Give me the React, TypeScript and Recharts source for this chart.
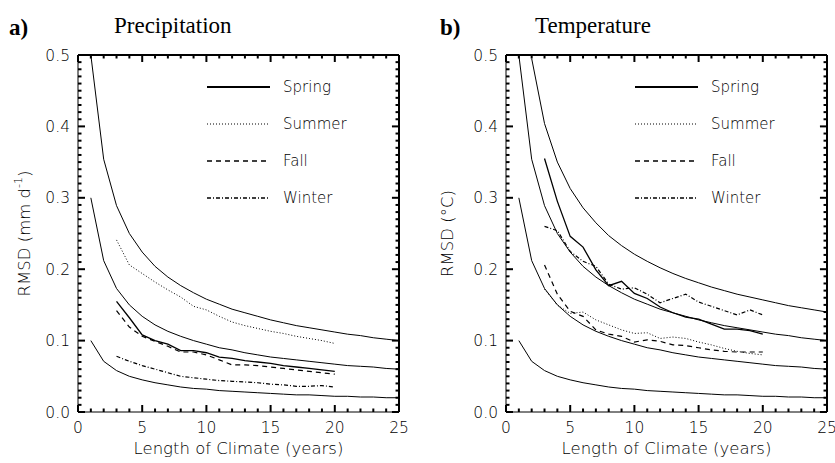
import React from "react";
import { LineChart, Line, XAxis, YAxis, Label, ReferenceLine } from "recharts";

// years of climate record (x)
const years = [1, 2, 3, 4, 5, 6, 7, 8, 9, 10, 11, 12, 13, 14, 15, 16, 17, 18, 19, 20, 21, 22, 23, 24, 25];

// background reference curves at each year
const ref1 = [0.1, 0.071, 0.058, 0.05, 0.045, 0.041, 0.038, 0.035, 0.033, 0.032, 0.03, 0.029, 0.028, 0.027, 0.026, 0.025, 0.024, 0.024, 0.023, 0.022, 0.022, 0.021, 0.021, 0.02, 0.02];
const ref3 = [0.3, 0.212, 0.173, 0.15, 0.134, 0.122, 0.113, 0.106, 0.1, 0.095, 0.09, 0.087, 0.083, 0.08, 0.077, 0.075, 0.073, 0.071, 0.069, 0.067, 0.065, 0.064, 0.063, 0.061, 0.06];
const ref5 = [0.5, 0.354, 0.289, 0.25, 0.224, 0.204, 0.189, 0.177, 0.167, 0.158, 0.151, 0.144, 0.139, 0.134, 0.129, 0.125, 0.121, 0.118, 0.115, 0.112, 0.109, 0.107, 0.104, 0.102, 0.1];
// the outermost temperature curve is off the top of the plot at year 1
const ref7 = [null, 0.495, 0.404, 0.35, 0.313, 0.286, 0.265, 0.247, 0.233, 0.221, 0.211, 0.202, 0.194, 0.187, 0.181, 0.175, 0.17, 0.165, 0.161, 0.157, 0.153, 0.149, 0.146, 0.143, 0.14];

// seasonal RMSD, years 3..20
const FIRST_YEAR = 3;
const precipSpring = [0.155, 0.132, 0.108, 0.1, 0.095, 0.086, 0.086, 0.083, 0.077, 0.075, 0.072, 0.07, 0.068, 0.065, 0.063, 0.061, 0.059, 0.057];
const precipSummer = [0.241, 0.206, 0.194, 0.182, 0.171, 0.161, 0.148, 0.143, 0.134, 0.126, 0.121, 0.117, 0.113, 0.11, 0.106, 0.103, 0.1, 0.096];
const precipFall = [0.142, 0.119, 0.106, 0.099, 0.092, 0.084, 0.084, 0.08, 0.073, 0.066, 0.066, 0.065, 0.063, 0.061, 0.059, 0.057, 0.055, 0.053];
const precipWinter = [0.078, 0.071, 0.065, 0.06, 0.055, 0.05, 0.048, 0.046, 0.044, 0.043, 0.042, 0.041, 0.039, 0.038, 0.036, 0.036, 0.037, 0.035];

const tempSpring = [0.355, 0.295, 0.246, 0.231, 0.199, 0.177, 0.183, 0.166, 0.159, 0.147, 0.139, 0.133, 0.13, 0.123, 0.116, 0.116, 0.114, 0.109];
const tempSummer = [0.172, 0.15, 0.138, 0.14, 0.129, 0.122, 0.115, 0.11, 0.111, 0.103, 0.105, 0.103, 0.098, 0.094, 0.089, 0.085, 0.082, 0.08];
const tempFall = [0.206, 0.165, 0.141, 0.134, 0.115, 0.109, 0.106, 0.098, 0.101, 0.099, 0.094, 0.093, 0.09, 0.087, 0.085, 0.084, 0.084, 0.084];
const tempWinter = [0.26, 0.254, 0.225, 0.211, 0.204, 0.179, 0.172, 0.174, 0.165, 0.153, 0.159, 0.165, 0.154, 0.148, 0.142, 0.136, 0.143, 0.136];

// axis ticks: x every year (labels every 5), y every 0.01 (labels every 0.1)
const xTicks = [0, ...years];
const yTicks = Array.from({ length: 51 }, (_, i) => i / 100);
const X_MAX = 25;
const Y_MAX = 0.5;

// inward tick lengths, in axis units (about 7px major / 3.5px minor)
const X_TICK_LEN = { major: 0.0098, minor: 0.0049 };
const Y_TICK_LEN = { major: 0.55, minor: 0.27 };

const SEASONS = [
  { key: "spring", name: "Spring", dash: undefined, width: 1.3, legendWidth: 1.8 },
  { key: "summer", name: "Summer", dash: "1 2", width: 1, legendWidth: 1 },
  { key: "fall", name: "Fall", dash: "5 4", width: 1.2, legendWidth: 1.5 },
  { key: "winter", name: "Winter", dash: "4 2 1 2", width: 1.2, legendWidth: 1.5 },
];

const FONT = "'DejaVu Sans', sans-serif";
const INK = "#000";
const TICK_W = 2;

const isMajorX = (v: number) => v % 5 === 0;
const isMajorY = (v: number) => Math.abs(v * 10 - Math.round(v * 10)) < 1e-6;

function seasonVal(arr: number[], i: number) {
  const j = years[i] - FIRST_YEAR;
  return j >= 0 && j < arr.length ? arr[j] : null;
}

function buildRows(refs: (number | null)[][], spring: number[], summer: number[], fall: number[], winter: number[]) {
  return years.map((year, i) => {
    const row: Record<string, number | null> = { year };
    refs.forEach((r, k) => (row["ref" + k] = r[i]));
    row.spring = seasonVal(spring, i);
    row.summer = seasonVal(summer, i);
    row.fall = seasonVal(fall, i);
    row.winter = seasonVal(winter, i);
    return row;
  });
}

const precipRows = buildRows([ref1, ref3, ref5], precipSpring, precipSummer, precipFall, precipWinter);
const tempRows = buildRows([ref1, ref3, ref5, ref7], tempSpring, tempSummer, tempFall, tempWinter);

function XTick(props: any) {
  const { x, y, payload } = props;
  const v = payload.value;
  const major = isMajorX(v);
  return (
    <g>
      <line x1={x} y1={y} x2={x} y2={y - (major ? 7 : 3.5)} stroke={INK} strokeWidth={TICK_W} />
      {major && (
        <text x={x} y={y + 21} textAnchor="middle" fontFamily={FONT} fontWeight={200} fontSize={15.5} fill={INK}>
          {v}
        </text>
      )}
    </g>
  );
}

function YTick(props: any) {
  const { x, y, payload } = props;
  const v = payload.value;
  const major = isMajorY(v);
  return (
    <g>
      <line x1={x} y1={y} x2={x + (major ? 7 : 3.5)} y2={y} stroke={INK} strokeWidth={TICK_W} />
      {major && (
        <text x={x - 8} y={y + 5.5} textAnchor="end" fontFamily={FONT} fontWeight={200} fontSize={15.5} fill={INK}>
          {v.toFixed(1)}
        </text>
      )}
    </g>
  );
}

function SeasonLegend() {
  return (
    <svg width={150} height={130}>
      {SEASONS.map((s, i) => (
        <g key={s.key} transform={`translate(0, ${8 + i * 37})`}>
          <line x1={0} y1={0} x2={63} y2={0} stroke={INK} strokeWidth={s.legendWidth} strokeDasharray={s.dash} />
          <text x={76} y={5} fontFamily={FONT} fontWeight={200} fontSize={15} fill={INK}>
            {s.name}
          </text>
        </g>
      ))}
    </svg>
  );
}

// inward ticks on the top and right edges of the box
function boxTicks() {
  const marks: React.ReactNode[] = [];
  xTicks.forEach((v) => {
    const len = isMajorX(v) ? X_TICK_LEN.major : X_TICK_LEN.minor;
    marks.push(
      <ReferenceLine key={"xt" + v} segment={[{ x: v, y: Y_MAX }, { x: v, y: Y_MAX - len }]} stroke={INK} strokeWidth={TICK_W} />
    );
  });
  yTicks.forEach((v) => {
    const len = isMajorY(v) ? Y_TICK_LEN.major : Y_TICK_LEN.minor;
    marks.push(
      <ReferenceLine key={"yr" + v} segment={[{ x: X_MAX, y: v }, { x: X_MAX - len, y: v }]} stroke={INK} strokeWidth={TICK_W} />
    );
  });
  return marks;
}

function Panel({ rows, refCount, yTitle, yTitleX }: { rows: any[]; refCount: number; yTitle: React.ReactNode; yTitleX: number }) {
  const refs = Array.from({ length: refCount }, (_, k) => "ref" + k);
  return (
    <div style={{ position: "relative", width: 420, height: 463 }}>
      <LineChart width={420} height={463} data={rows} margin={{ top: 55, right: 21, bottom: 0, left: 0 }}>
        <XAxis
          dataKey="year"
          type="number"
          domain={[0, X_MAX]}
          ticks={xTicks}
          interval={0}
          height={51}
          tickSize={0}
          tickMargin={0}
          tickLine={false}
          axisLine={{ stroke: INK }}
          tick={<XTick />}
        >
          <Label
            content={(p: any) => {
              const vb = p.viewBox;
              return (
                <text x={vb.x + vb.width / 2} y={vb.y + 42} textAnchor="middle" fontFamily={FONT} fontWeight={200} fontSize={16.5} fill={INK}>
                  Length of Climate (years)
                </text>
              );
            }}
          />
        </XAxis>
        <YAxis
          type="number"
          domain={[0, Y_MAX]}
          ticks={yTicks}
          interval={0}
          width={78}
          tickSize={0}
          tickMargin={0}
          tickLine={false}
          axisLine={{ stroke: INK }}
          tick={<YTick />}
        >
          <Label
            content={(p: any) => {
              const vb = p.viewBox;
              const cx = vb.x + yTitleX;
              const cy = vb.y + vb.height / 2;
              return (
                <text
                  x={cx}
                  y={cy}
                  transform={`rotate(-90, ${cx}, ${cy})`}
                  textAnchor="middle"
                  dominantBaseline="central"
                  fontFamily={FONT}
                  fontWeight={200}
                  fontSize={16.5}
                  fill={INK}
                >
                  {yTitle}
                </text>
              );
            }}
          />
        </YAxis>
        <ReferenceLine y={Y_MAX} stroke={INK} strokeWidth={TICK_W} />
        <ReferenceLine x={X_MAX} stroke={INK} strokeWidth={TICK_W} />
        {boxTicks()}
        {refs.map((k) => (
          <Line key={k} dataKey={k} type="linear" stroke={INK} strokeWidth={1} dot={false} isAnimationActive={false} />
        ))}
        {SEASONS.map((s) => (
          <Line
            key={s.key}
            dataKey={s.key}
            name={s.name}
            type="linear"
            stroke={INK}
            strokeWidth={s.width}
            strokeDasharray={s.dash}
            dot={false}
            isAnimationActive={false}
          />
        ))}
      </LineChart>
      <div style={{ position: "absolute", left: 207, top: 79 }}>
        <SeasonLegend />
      </div>
    </div>
  );
}

export default function App() {
  return (
    <div style={{ position: "absolute", left: 0, top: 0, width: 835, height: 463, background: "#fff", overflow: "hidden" }}>
      <div style={{ position: "absolute", left: 0, top: 0 }}>
        <Panel
          rows={precipRows}
          refCount={3}
          yTitleX={24}
          yTitle={
            <>
              RMSD (mm d<tspan dy={-6} fontSize={11}>-1</tspan>
              <tspan dy={6}>)</tspan>
            </>
          }
        />
      </div>
      <div style={{ position: "absolute", left: 428, top: 0 }}>
        <Panel rows={tempRows} refCount={4} yTitleX={19} yTitle="RMSD (°C)" />
      </div>
      <svg width={835} height={50} style={{ position: "absolute", left: 0, top: 0, pointerEvents: "none" }}>
        <text x={9} y={35} fontFamily="'Liberation Serif', serif" fontWeight={700} fontSize={23} fill="#000">a)</text>
        <text x={114} y={33} fontFamily="'Liberation Serif', serif" fontSize={23} fill="#000">Precipitation</text>
        <text x={440} y={35} fontFamily="'Liberation Serif', serif" fontWeight={700} fontSize={23} fill="#000">b)</text>
        <text x={535} y={33} fontFamily="'Liberation Serif', serif" fontSize={23} fill="#000">Temperature</text>
      </svg>
    </div>
  );
}
